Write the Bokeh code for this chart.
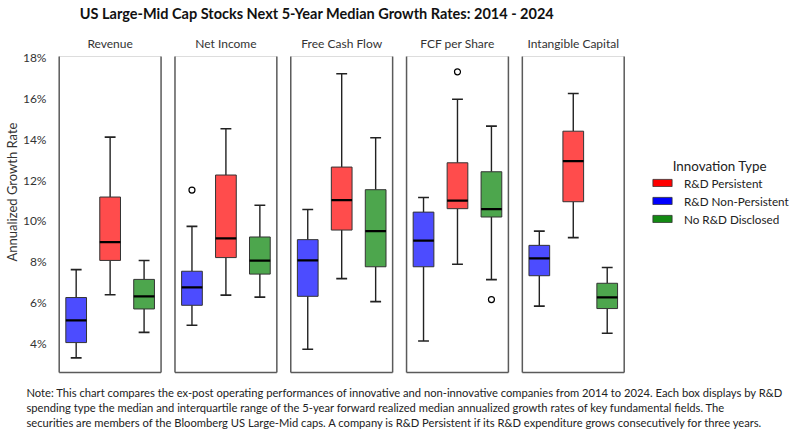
from bokeh.plotting import figure
from bokeh.models import (Range1d, Label, Legend, LegendItem, FixedTicker,
                          PrintfTickFormatter, ColumnDataSource, Title)
from bokeh.embed import file_html
from bokeh.resources import INLINE

# ---------------- data ----------------
metrics = ["Revenue", "Net Income", "Free Cash Flow", "FCF per Share", "Intangible Capital"]
groups = ["R&D Non-Persistent", "R&D Persistent", "No R&D Disclosed"]
legend_order = ["R&D Persistent", "R&D Non-Persistent", "No R&D Disclosed"]

# R&D Non-Persistent (blue)
np_low = [3.28, 4.88, 3.70, 4.11, 5.82]
np_q1 = [4.03, 5.86, 6.30, 7.75, 7.31]
np_med = [5.12, 6.74, 8.06, 9.03, 8.16]
np_q3 = [6.24, 7.53, 9.08, 10.43, 8.80]
np_high = [7.61, 9.73, 10.56, 11.15, 9.50]
np_out_metric = ["Net Income"]
np_out_value = [11.51]

# R&D Persistent (red)
p_low = [6.38, 6.36, 7.17, 7.87, 9.18]
p_q1 = [8.06, 8.20, 9.55, 10.60, 10.94]
p_med = [8.96, 9.14, 11.02, 10.99, 12.93]
p_q3 = [11.17, 12.25, 12.64, 12.85, 14.40]
p_high = [14.11, 14.52, 17.22, 15.97, 16.25]
p_out_metric = ["FCF per Share"]
p_out_value = [17.31]

# No R&D Disclosed (green)
n_low = [4.53, 6.26, 6.04, 7.12, 4.49]
n_q1 = [5.68, 7.39, 7.75, 10.19, 5.70]
n_med = [6.30, 8.05, 9.50, 10.58, 6.25]
n_q3 = [7.13, 9.21, 11.53, 12.41, 6.94]
n_high = [8.06, 10.77, 14.08, 14.65, 7.71]
n_out_metric = ["FCF per Share"]
n_out_value = [6.14]

y_ticks = [4, 6, 8, 10, 12, 14, 16, 18]

title_text = "US Large-Mid Cap Stocks Next 5-Year Median Growth Rates: 2014 - 2024"
note_lines = [
    "Note: This chart compares the ex-post operating performances of innovative and non-innovative companies from 2014 to 2024. Each box displays by R&D",
    "spending type the median and interquartile range of the 5-year forward realized median annualized growth rates of key fundamental fields. The",
    "securities are members of the Bloomberg US Large-Mid caps. A company is R&D Persistent if its R&D expenditure grows consecutively for three years.",
]

# ---------------- styling / layout ----------------
FONT = "Lato"
W, H = 800, 431
LEFT = 56               # frame left (px)
FRAME_BOTTOM = 383      # frame bottom (px from top)
PXX = 34.0              # px per x unit
PXY = 20.386            # px per 1 %
Y_AT_TOP = 18 + 57.3 / PXY
Y_AT_BOTTOM = Y_AT_TOP - FRAME_BOTTOM / PXY
X0 = 0.5 - (57.7 - LEFT) / PXX
X1 = X0 + (W - LEFT) / PXX
STEP = 3.41             # panel step in x units
PANEL_TOP = 18 + (57.3 - 56) / PXY
PANEL_BOTTOM = 4 - (372 - 342.7) / PXY
BOX_W = 0.61
CAP_W = 0.32

fills = {"R&D Persistent": "#FF4C4C", "R&D Non-Persistent": "#4C4CFF", "No R&D Disclosed": "#4DA64D"}
solid = {"R&D Persistent": "#FF0000", "R&D Non-Persistent": "#0000FF", "No R&D Disclosed": "#138A13"}


def dx(px):
    return X0 + (px - LEFT) / PXX


def dy(py):
    return Y_AT_TOP - py / PXY


p = figure(width=W, height=H, output_backend="svg", toolbar_location=None,
           x_range=Range1d(X0, X1), y_range=Range1d(Y_AT_BOTTOM, Y_AT_TOP),
           x_axis_location=None,
           min_border_left=LEFT, min_border_right=0, min_border_top=0,
           min_border_bottom=H - FRAME_BOTTOM,
           background_fill_color="white", border_fill_color="white")
p.outline_line_color = None
p.grid.visible = False

yax = p.yaxis[0]
yax.ticker = FixedTicker(ticks=y_ticks)
yax.formatter = PrintfTickFormatter(format="%d%%")
yax.axis_line_color = None
yax.major_tick_line_color = None
yax.minor_tick_line_color = None
yax.major_tick_out = 0
yax.major_tick_in = 0
yax.minor_tick_out = 0
yax.major_label_standoff = 11
yax.major_label_text_font = FONT
yax.major_label_text_font_size = "12px"
yax.major_label_text_color = "#333333"
yax.axis_label = "Annualized Growth Rate"
yax.axis_label_text_font = FONT
yax.axis_label_text_font_size = "13px"
yax.axis_label_text_font_style = "normal"
yax.axis_label_text_color = "#333333"
yax.axis_label_standoff = 0

# panel frames
px_left = [i * STEP + 0.5 for i in range(len(metrics))]
px_right = [x + 3 for x in px_left]
p.segment(x0=px_left, x1=px_right, y0=PANEL_TOP, y1=PANEL_TOP, line_color="#dddddd", line_width=1.2)
p.segment(x0=px_left, x1=px_left, y0=PANEL_TOP, y1=PANEL_BOTTOM, line_color="#5a5a5a", line_width=1.5)
p.segment(x0=px_right, x1=px_right, y0=PANEL_TOP, y1=PANEL_BOTTOM, line_color="#5a5a5a", line_width=1.5)
p.segment(x0=px_left, x1=px_right, y0=PANEL_BOTTOM, y1=PANEL_BOTTOM, line_color="#5a5a5a", line_width=1.5)

series = {
    "R&D Non-Persistent": (np_low, np_q1, np_med, np_q3, np_high, np_out_metric, np_out_value),
    "R&D Persistent": (p_low, p_q1, p_med, p_q3, p_high, p_out_metric, p_out_value),
    "No R&D Disclosed": (n_low, n_q1, n_med, n_q3, n_high, n_out_metric, n_out_value),
}

legend_renderers = {}
for gi, g in enumerate(groups):
    low, q1, med, q3, high, om, ov = series[g]
    xs = [mi * STEP + (gi + 1) for mi in range(len(metrics))]
    src = ColumnDataSource(dict(x=xs, low=low, q1=q1, med=med, q3=q3, high=high,
                                xl=[x - BOX_W / 2 for x in xs], xr=[x + BOX_W / 2 for x in xs],
                                cl=[x - CAP_W / 2 for x in xs], cr=[x + CAP_W / 2 for x in xs]))
    # whiskers
    p.segment(x0="x", x1="x", y0="q3", y1="high", source=src, line_color="#222222", line_width=1.4)
    p.segment(x0="x", x1="x", y0="low", y1="q1", source=src, line_color="#222222", line_width=1.4)
    p.segment(x0="cl", x1="cr", y0="high", y1="high", source=src, line_color="#222222", line_width=1.6)
    p.segment(x0="cl", x1="cr", y0="low", y1="low", source=src, line_color="#222222", line_width=1.6)
    # boxes
    p.vbar(x="x", width=BOX_W, top="q3", bottom="q1", source=src,
           fill_color=fills[g], line_color="#333333", line_width=1.0)
    # legend key renderer (solid colour, hidden in the plot)
    legend_renderers[g] = p.vbar(x="x", width=BOX_W, top="q3", bottom="q1", source=src,
                                 fill_color=solid[g], line_color="#333333", line_width=0.8,
                                 visible=False)
    # median
    p.segment(x0="xl", x1="xr", y0="med", y1="med", source=src, line_color="black", line_width=2.2)
    # outliers
    ox = [metrics.index(m) * STEP + (gi + 1) for m in om]
    p.scatter(x=ox, y=ov, marker="circle", size=6, fill_color="white",
              line_color="black", line_width=1.2)

# panel labels
for mi, m in enumerate(metrics):
    p.add_layout(Label(x=mi * STEP + 2, y=dy(43.3), text=m, text_align="center",
                       text_baseline="middle", text_font=FONT, text_font_size="12px",
                       text_color="#333333"))

# title
p.add_layout(Label(x=dx(78.3), y=dy(13.3), text=title_text, text_align="left",
                   text_baseline="middle", text_font=FONT, text_font_size="14.5px",
                   text_font_style="bold", text_color="#111111"))

# note (stacked titles below the frame)
for li, line in enumerate(note_lines):
    t = Title(text=line, align="left", offset=25 - LEFT, vertical_align="bottom",
              standoff=0, text_font=FONT, text_font_size="11.2px",
              text_font_style="normal", text_color="#222222", text_line_height=1.1)
    p.add_layout(t, "below")

# legend
items = [LegendItem(label=g, renderers=[legend_renderers[g]]) for g in legend_order]
legend = Legend(items=items, location=(649 - LEFT, FRAME_BOTTOM - 226.2), orientation="vertical",
                glyph_width=24, glyph_height=9, label_height=15, spacing=3,
                label_standoff=10, padding=0, margin=0,
                border_line_color=None, background_fill_alpha=0,
                inactive_fill_alpha=0,
                label_text_font=FONT, label_text_font_size="11.7px",
                label_text_color="#222222")
p.add_layout(legend)
p.add_layout(Label(x=dx(672), y=dy(165), text="Innovation Type", text_align="left",
                   text_baseline="middle", text_font=FONT, text_font_size="13.4px",
                   text_color="#222222"))

open("out.html", "w").write(file_html(p, INLINE))
